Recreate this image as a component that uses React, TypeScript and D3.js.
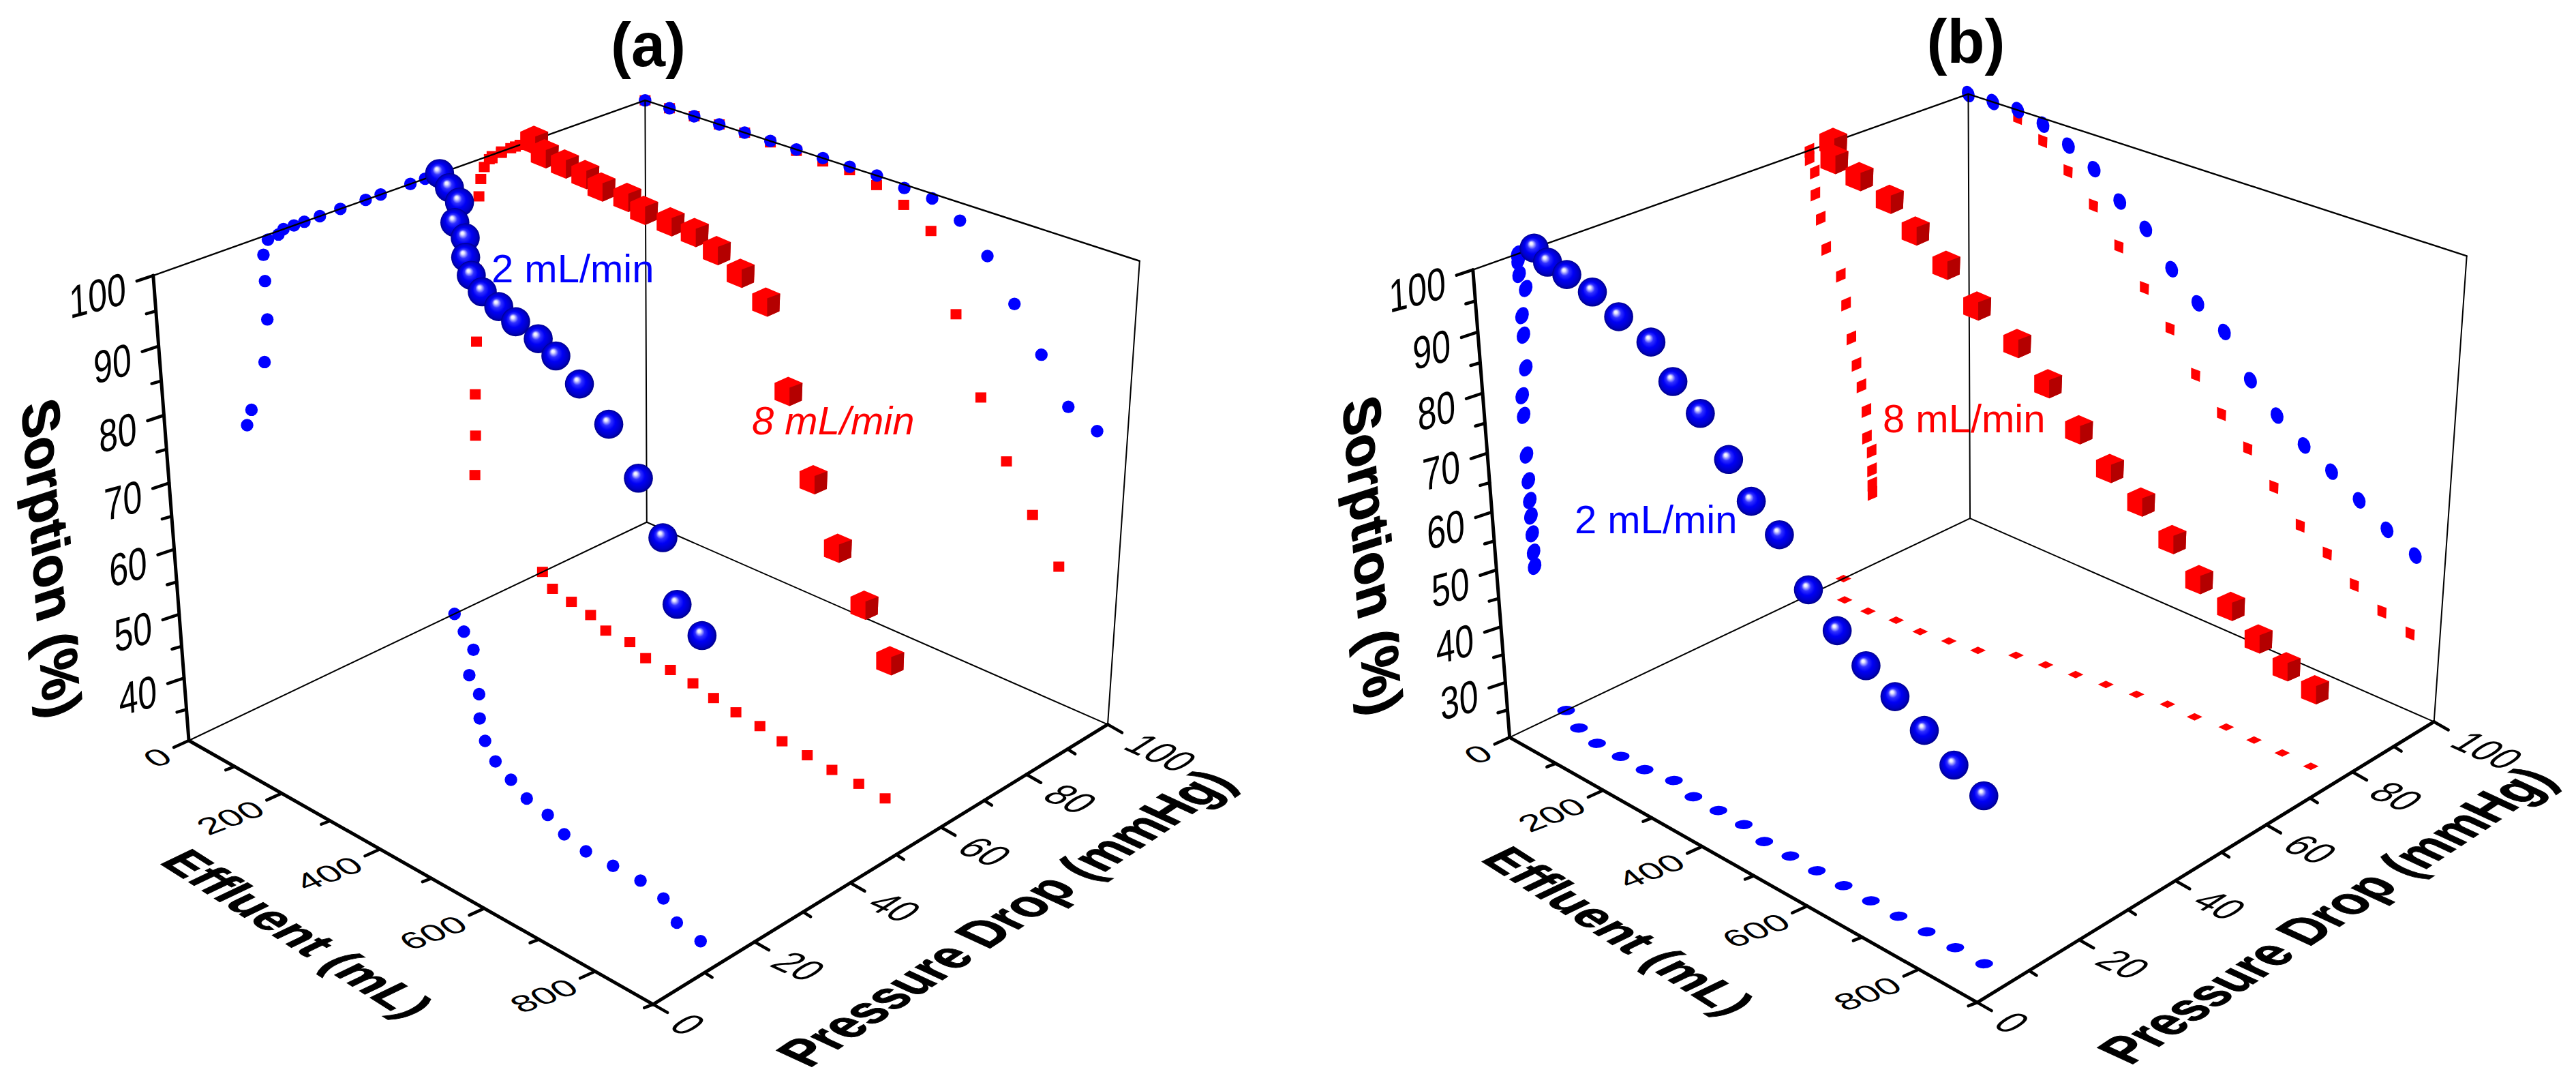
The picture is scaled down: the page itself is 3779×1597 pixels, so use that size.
import React from 'react';
import * as d3 from 'd3';

// ---- data ----
const effluentBlue = [0, 50, 100, 150, 200, 250, 300, 350, 400, 450, 500, 550, 600, 650, 700, 750, 800, 850];
const effluentRedA = [0, 50, 100, 150, 200, 250, 300, 350, 400, 450, 500, 550, 600, 650, 700, 750, 800];
const effluentRedB = [0, 50, 100, 150, 200, 250, 300, 350, 400, 450, 500, 550, 600, 650, 700, 750, 800, 850];

const pressureBlueA = [55, 52, 49, 43, 40, 35, 31, 28, 26, 24, 23, 21, 20, 20, 20, 19, 16, 15];
const sorptionBlueA = [100, 100, 100, 100, 100, 100, 100, 100, 100, 100, 99.5, 99.3, 97.4, 93.6, 88, 82, 75.8, 73.8];
const pressureRedA = [75, 72, 71, 70, 68, 68, 66, 66, 65.4, 64.3, 63.5, 63, 62, 61.6, 61, 60.8, 60.4];
const sorptionRedA = [100, 100, 100, 100, 100, 99.8, 99.8, 99.5, 99.5, 98.6, 97, 94.5, 83.5, 72.4, 64.2, 57.6, 51.3];

const pressureBlueB = [11, 9, 8, 8, 8, 9, 8, 8, 8, 7, 7, 7, 7, 7, 7, 7, 7, 7];
const sorptionBlueB = [100, 100, 100, 98.9, 96.7, 94.1, 90, 86.8, 81.4, 77.1, 73.8, 67.1, 62.7, 59.3, 56.6, 53.5, 50.3, 47.8];
const pressureRedB = [70, 65, 65, 66, 66, 67, 68, 71, 72, 73, 74, 75, 76, 76, 77, 77, 77, 77];
const sorptionRedB = [100, 100, 98.6, 96, 92.2, 87.7, 82.1, 76.4, 70.9, 64.4, 59.2, 54.9, 49.9, 44.9, 41.9, 38.3, 35.6, 33.8];

const effluentTicks = [0, 200, 400, 600, 800];
const effluentMinor = [100, 300, 500, 700, 900];
const pressureTicks = [0, 20, 40, 60, 80, 100];
const pressureMinor = [10, 30, 50, 70, 90];
const sorptionTicksA = [100, 90, 80, 70, 60, 50, 40];
const sorptionMinorA = [95, 85, 75, 65, 55, 45, 35];
const sorptionTicksB = [100, 90, 80, 70, 60, 50, 40, 30];
const sorptionMinorB = [95, 85, 75, 65, 55, 45, 35, 25];

const FONT = '"Liberation Sans", Arial, sans-serif';

// ---- perspective box: corners of the drawn cube on the page ----
type Pt = number[];
function fitCamera(c: Pt[]) {
  const uvw = [[0, 0, 0], [1, 0, 0], [1, 1, 0], [0, 1, 0], [0, 0, 1], [0, 1, 1], [1, 1, 1]];
  const rows: number[][] = [];
  const rhs: number[] = [];
  uvw.forEach(([u, v, w], i) => {
    const [x, y] = c[i];
    rows.push([u, v, w, 1, 0, 0, 0, 0, -x * u, -x * v, -x * w]); rhs.push(x);
    rows.push([0, 0, 0, 0, u, v, w, 1, -y * u, -y * v, -y * w]); rhs.push(y);
  });
  const n = 11;
  const M = Array.from({ length: n }, (_, i) => {
    const r = new Array(n + 1).fill(0);
    rows.forEach((row, k) => {
      for (let j = 0; j < n; j++) r[j] += row[i] * row[j];
      r[n] += row[i] * rhs[k];
    });
    return r;
  });
  for (let i = 0; i < n; i++) {
    let p = i;
    for (let k = i; k < n; k++) if (Math.abs(M[k][i]) > Math.abs(M[p][i])) p = k;
    [M[i], M[p]] = [M[p], M[i]];
    for (let k = 0; k < n; k++) if (k !== i) {
      const f = M[k][i] / M[i][i];
      for (let j = i; j <= n; j++) M[k][j] -= f * M[i][j];
    }
  }
  const m = M.map((r, i) => r[n] / r[i]);
  return (u: number, v: number, w: number): Pt => {
    const d = m[8] * u + m[9] * v + m[10] * w + 1;
    return [(m[0] * u + m[1] * v + m[2] * w + m[3]) / d, (m[4] * u + m[5] * v + m[6] * w + m[7]) / d];
  };
}

const hexagon = '0,-21 21,-12 20,14 2,22 -20,13 -20,-12';
const darkFace = '2,-5 21,-12 20,14 2,22';

type Series = { e: number[]; p: number[]; s: number[] };
type PanelProps = {
  title: string; titleX: number; titleY: number;
  corners: Pt[]; sMin: number; sTicks: number[]; sMinor: number[];
  blue: Series; red: Series; dx: number; dy: number; skewed: boolean;
  blueLabel: { x: number; y: number }; redLabel: { x: number; y: number; italic: boolean };
};

function Panel(props: PanelProps) {
  const { title, titleX, titleY, corners, sMin, sTicks, sMinor, blue, red, dx, dy, skewed, blueLabel, redLabel } = props;
  const cam = fitCamera(corners);
  const eScale = d3.scaleLinear().domain([0, 900]).range([0, 1]);
  const pScale = d3.scaleLinear().domain([0, 100]).range([0, 1]);
  const sScale = d3.scaleLinear().domain([sMin, 100]).range([0, 1]);
  const P = (e: number, p: number, s: number) => cam(eScale(e), pScale(p), sScale(s));
  const line = d3.line();

  const seg = (a: Pt, b: Pt, w: number, key: string) => (
    <path key={key} d={line([a as [number, number], b as [number, number]]) as string} stroke="#000" strokeWidth={w} fill="none" strokeLinecap="round" />
  );
  const tick = (a: Pt, ox: number, oy: number, key: string) => seg(a, [a[0] + ox, a[1] + oy], 4.5, key);

  const wallBlue = (e: number, p: number, s: number, kind: string, key: string) => {
    const [x, y] = kind === 'left' ? P(0, p, s) : kind === 'right' ? P(e, 100, s) : P(e, p, sMin);
    if (!skewed) return <circle key={key} cx={x} cy={y} r={9.2} fill="#0000ff" />;
    if (kind === 'left') return <ellipse key={key} rx={9.5} ry={13} fill="#0000ff" transform={`translate(${x} ${y}) rotate(20)`} />;
    if (kind === 'right') return <ellipse key={key} rx={9} ry={12.5} fill="#0000ff" transform={`translate(${x} ${y}) rotate(-20)`} />;
    return <ellipse key={key} rx={13} ry={6.8} fill="#0000ff" transform={`translate(${x} ${y}) rotate(-2)`} />;
  };
  const wallRed = (e: number, p: number, s: number, kind: string, key: string) => {
    const [x, y] = kind === 'left' ? P(0, p, s) : kind === 'right' ? P(e, 100, s) : P(e, p, sMin);
    if (!skewed) return <rect key={key} x={x - 8} y={y - 7.5} width={16} height={15} fill="#ff0000" />;
    const shape = kind === 'left' ? '-7,-5 7,-11 7,5 -7,11' : kind === 'right' ? '-6.7,-10.7 6.7,-5.7 6,10 -6.7,5' : '-11.5,0 0,-5.5 11.5,0 0,5.5';
    return <polygon key={key} points={shape} fill="#ff0000" transform={`translate(${x} ${y})`} />;
  };

  const L = cam(0, 0, 0), F = cam(1, 0, 0), R = cam(1, 1, 0), B = cam(0, 1, 0);
  const TL = cam(0, 0, 1), TB = cam(0, 1, 1), TR = cam(1, 1, 1);
  const gid = `ball-${title.replace(/\W/g, '')}`;

  return (
    <g>
      <defs>
        <radialGradient id={gid} cx="0.5" cy="0.5" r="0.5" fx="0.39" fy="0.33">
          <stop offset="0" stopColor="#ffffff" />
          <stop offset="0.1" stopColor="#e8e8ff" />
          <stop offset="0.32" stopColor="#3030ff" />
          <stop offset="0.55" stopColor="#0000f5" />
          <stop offset="0.85" stopColor="#0000c4" />
          <stop offset="1" stopColor="#00008a" />
        </radialGradient>
      </defs>

      {/* wall projections */}
      {red.e.map((e, i) => wallRed(e, red.p[i], red.s[i], 'left', `rl${i}`))}
      {red.e.map((e, i) => wallRed(e, red.p[i], red.s[i], 'right', `rr${i}`))}
      {red.e.map((e, i) => wallRed(e, red.p[i], red.s[i], 'floor', `rf${i}`))}
      {blue.e.map((e, i) => wallBlue(e, blue.p[i], blue.s[i], 'left', `bl${i}`))}
      {blue.e.map((e, i) => wallBlue(e, blue.p[i], blue.s[i], 'right', `br${i}`))}
      {blue.e.map((e, i) => wallBlue(e, blue.p[i], blue.s[i], 'floor', `bf${i}`))}

      {/* thin frame */}
      {seg(L, B, 2, 'f1')}{seg(B, R, 2, 'f2')}{seg(B, TB, 2, 'f3')}
      {seg(TL, TB, 2.4, 'f4')}{seg(TB, TR, 2.4, 'f5')}{seg(R, TR, 2, 'f6')}

      {/* axes */}
      {seg(L, TL, 5, 'a1')}{seg(L, F, 5, 'a2')}{seg(F, R, 5, 'a3')}
      {sTicks.map(s => tick(cam(0, 0, sScale(s)), -24, 8, `st${s}`))}
      {sMinor.map(s => tick(cam(0, 0, sScale(s)), -14, 4, `sm${s}`))}
      {effluentTicks.map(e => tick(cam(eScale(e), 0, 0), -22, 10, `et${e}`))}
      {effluentMinor.map(e => tick(cam(eScale(e), 0, 0), -13, 5, `em${e}`))}
      {pressureTicks.map(p => tick(cam(1, pScale(p), 0), 21, 12, `pt${p}`))}
      {pressureMinor.map(p => tick(cam(1, pScale(p), 0), 11, 7, `pm${p}`))}

      {/* tick labels, lying in the plane of each axis */}
      <g fontFamily={FONT} fontSize={58} fill="#000">
        {sTicks.map(s => {
          const [x, y] = cam(0, 0, sScale(s));
          return <text key={s} dy="0.36em" textAnchor="end" transform={`matrix(.86 -.23 .05 1.15 ${x - 40} ${y + 17})`}>{s}</text>;
        })}
        {effluentTicks.map(e => {
          const [x, y] = cam(eScale(e), 0, 0);
          return <text key={e} dy="0.36em" textAnchor="end" transform={`matrix(.9 -.34 .55 .5 ${x - 32} ${y + 19})`}>{e}</text>;
        })}
        {pressureTicks.map(p => {
          const [x, y] = cam(1, pScale(p), 0);
          return <text key={p} dy="0.36em" textAnchor="start" transform={`matrix(.84 .38 -.87 .56 ${x + 38} ${y + 23})`}>{p}</text>;
        })}
      </g>

      {/* axis titles */}
      <g fontFamily={FONT} fontSize={70} fontWeight="bold" fill="#000" stroke="#000" strokeWidth={1.2}>
        <text transform={`matrix(.84 .535 -.96 .46 ${232 + dx} ${1265 + dy})`}>Effluent (mL)</text>
        <text transform={`matrix(.82 -.545 1.08 .5 ${1187 + dx} ${1567 + dy})`}>Pressure Drop (mmHg)</text>
        <text transform={`matrix(.08 1.11 -1.1 .35 ${32 + dx} ${596 + dy})`}>Sorption (%)</text>
      </g>

      {/* 3D marks */}
      {red.e.map((e, i) => {
        const [x, y] = P(e, red.p[i], red.s[i]);
        return (
          <g key={`c${i}`} transform={`translate(${x} ${y})`}>
            <polygon points={hexagon} fill="#ff0000" />
            <polygon points={darkFace} fill="#b40000" />
          </g>
        );
      })}
      {blue.e.map((e, i) => {
        const [x, y] = P(e, blue.p[i], blue.s[i]);
        return <circle key={`s${i}`} cx={x} cy={y} r={21.3} fill={`url(#${gid})`} />;
      })}

      {/* labels */}
      <text x={titleX} y={titleY} textAnchor="middle" fontFamily={FONT} fontSize={90} fontWeight="bold" fill="#000">{title}</text>
      <text x={blueLabel.x} y={blueLabel.y} fontFamily={FONT} fontSize={58} fill="#0000ff">2 mL/min</text>
      <text x={redLabel.x} y={redLabel.y} fontFamily={FONT} fontSize={58} fontStyle={redLabel.italic ? 'italic' : 'normal'} fill="#ff0000">8 mL/min</text>
    </g>
  );
}

export default function App() {
  return (
    <svg width={3779} height={1597} viewBox="0 0 3779 1597" style={{ position: 'absolute', left: 0, top: 0, background: '#fff' }}>
      <Panel
        title="(a)" titleX={951} titleY={97}
        corners={[[277, 1086], [958, 1473], [1625, 1062], [949, 766], [225, 404], [946, 147], [1672, 383]]}
        sMin={30} sTicks={sorptionTicksA} sMinor={sorptionMinorA}
        blue={{ e: effluentBlue, p: pressureBlueA, s: sorptionBlueA }}
        red={{ e: effluentRedA, p: pressureRedA, s: sorptionRedA }}
        dx={0} dy={0} skewed={false}
        blueLabel={{ x: 721, y: 414 }} redLabel={{ x: 1103, y: 637, italic: true }}
      />
      <Panel
        title="(b)" titleX={2884} titleY={92}
        corners={[[2215, 1082], [2900, 1470], [3571, 1058], [2890, 760], [2161, 395], [2887, 138], [3619, 376]]}
        sMin={20} sTicks={sorptionTicksB} sMinor={sorptionMinorB}
        blue={{ e: effluentBlue, p: pressureBlueB, s: sorptionBlueB }}
        red={{ e: effluentRedB, p: pressureRedB, s: sorptionRedB }}
        dx={1938} dy={-4} skewed={true}
        blueLabel={{ x: 2310, y: 782 }} redLabel={{ x: 2762, y: 634, italic: false }}
      />
    </svg>
  );
}
